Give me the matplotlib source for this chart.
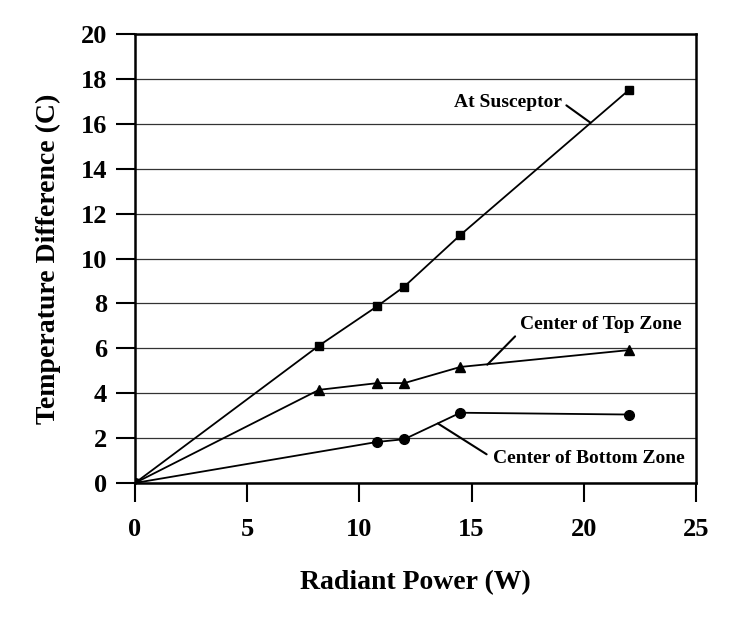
import matplotlib
matplotlib.use("Agg")
import matplotlib.pyplot as plt

plt.rcParams['font.family'] = ['Liberation Serif', 'DejaVu Serif']
plt.rcParams['font.weight'] = 'bold'

# radiant power (W) and temperature difference (C)
power_susceptor = [0, 8.2, 10.8, 12.0, 14.5, 22.0]
temp_susceptor = [0, 6.12, 7.88, 8.75, 11.05, 17.5]

power_top = [0, 8.2, 10.8, 12.0, 14.5, 22.0]
temp_top = [0, 4.15, 4.45, 4.45, 5.17, 5.92]

power_bottom = [0, 10.8, 12.0, 14.5, 22.0]
temp_bottom = [0, 1.83, 1.95, 3.13, 3.05]

fig = plt.figure(figsize=(7.33, 6.2), dpi=100)
ax = fig.add_axes([0.1842, 0.221, 0.7653, 0.724])

ax.plot(power_susceptor, temp_susceptor, color='black', lw=1.3,
        marker='s', markersize=6, zorder=3)
ax.plot(power_top, temp_top, color='black', lw=1.3,
        marker='^', markersize=7, zorder=3)
ax.plot(power_bottom, temp_bottom, color='black', lw=1.3,
        marker='o', markersize=7, zorder=3)

# labels with leader lines
ax.annotate('At Susceptor', xy=(20.3, 16.05), xytext=(19.05, 16.95),
            ha='right', va='center', fontsize=14, fontweight='bold',
            arrowprops=dict(arrowstyle='-', color='black', lw=1.5,
                            relpos=(1.0, 0.5), shrinkA=1, shrinkB=0))
ax.annotate('Center of Top Zone', xy=(15.7, 5.27), xytext=(17.15, 7.05),
            ha='left', va='center', fontsize=14, fontweight='bold',
            arrowprops=dict(arrowstyle='-', color='black', lw=1.5,
                            relpos=(0.0, 0.1), shrinkA=2, shrinkB=0))
ax.annotate('Center of Bottom Zone', xy=(13.5, 2.65), xytext=(15.95, 1.1),
            ha='left', va='center', fontsize=14, fontweight='bold',
            arrowprops=dict(arrowstyle='-', color='black', lw=1.5,
                            relpos=(0.0, 0.5), shrinkA=3, shrinkB=0))

ax.set_xlim(0, 25)
ax.set_ylim(0, 20)
ax.set_xticks(range(0, 26, 5))
ax.set_yticks(range(0, 21, 2))
ax.yaxis.grid(True, color='#333333', lw=0.9)
ax.set_axisbelow(True)

for side in ax.spines.values():
    side.set_linewidth(1.8)

ax.tick_params(direction='out', length=14, width=1.5, labelsize=19)
ax.tick_params(axis='x', pad=11)
ax.tick_params(axis='y', pad=6)
ax.set_xlabel('Radiant Power (W)', fontsize=20, fontweight='bold', labelpad=21)
ax.set_ylabel('Temperature Difference (C)', fontsize=20, fontweight='bold', labelpad=14)

fig.savefig('out.png', dpi=100)
